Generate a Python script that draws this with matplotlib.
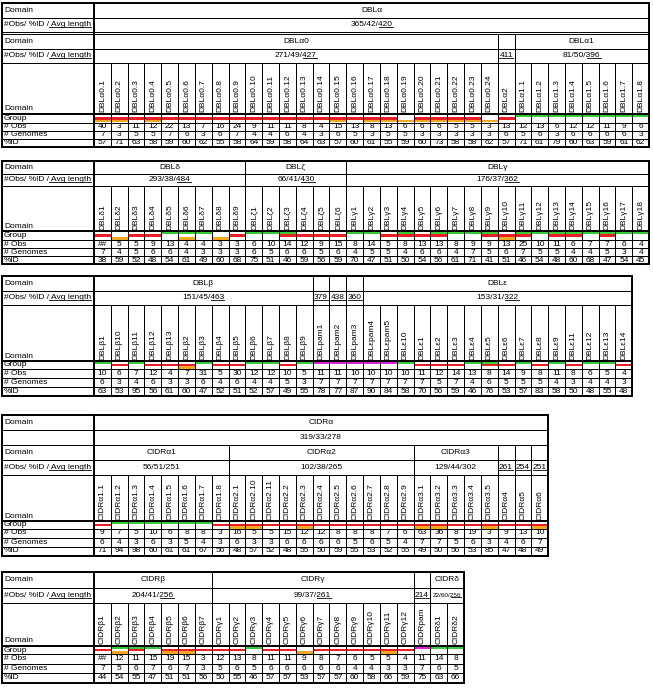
import matplotlib
matplotlib.use('Agg')
import matplotlib.pyplot as plt
from matplotlib.patches import Rectangle

plt.rcParams['font.family'] = ['Liberation Sans', 'DejaVu Sans']

FS = 6.0
LAB = '#Obs/ %ID / '
# group colours: G top band, M top band (pam), R middle band, O bottom band
band_col = {'G': '#35cc35', 'M': '#dd22dd', 'R': '#ee1c24', 'O': '#f5a623'}

# ---------------- DBLα
a_names = ['DBLα0.%d' % i for i in range(1, 25)] + ['DBLα2'] + ['DBLα1.%d' % i for i in range(1, 9)]
a_group = ['RO', 'RO', 'R', 'RO', 'R', 'R', 'R', 'R', 'R', 'R', 'R', 'R', 'R', 'R',
           'RO', 'R', 'RO', 'RO', 'O', 'RO', 'RO', 'RO', 'RO', 'O',
           'R', 'G', 'G', 'G', 'G', 'G', 'G', 'G', 'G']
a_obs = [40, 3, 11, 12, 22, 13, 7, 16, 24, 9, 11, 11, 8, 4, 15, 13, 8, 13, 6, 6, 6, 5, 5, 3,
         13, 12, 13, 6, 12, 12, 11, 9, 6]
a_gen = [7, 3, 5, 5, 7, 6, 3, 6, 7, 4, 4, 6, 4, 3, 6, 5, 3, 5, 5, 3, 3, 3, 3, 3,
         6, 5, 6, 3, 6, 6, 6, 6, 3]
a_pid = [57, 71, 63, 58, 59, 60, 62, 55, 58, 64, 59, 58, 64, 63, 57, 60, 61, 55, 59, 60, 73, 58, 58, 62,
         57, 71, 61, 79, 60, 63, 59, 61, 62]
a_head = [('Domain', [('DBLα', '', 33)]),
          (LAB, [('365/42/', '420', 33)]),
          ('Domain', [('DBLα0', '', 24), ('', '', 1), ('DBLα1', '', 8)]),
          (LAB, [('271/49/', '427', 24), ('', '411', 1), ('81/50/', '396', 8)])]

# ---------------- DBLδ / ζ / γ
b_names = ['DBLδ%d' % i for i in range(1, 10)] + ['DBLζ%d' % i for i in range(1, 7)] + \
          ['DBLγ%d' % i for i in range(1, 19)]
b_group = ['R', 'O', 'R', 'R', 'G', 'GO', 'G', 'O', 'R',
           'G', 'G', 'GR', 'R', 'R', 'R',
           'G', 'G', 'R', 'GR', 'R', 'GR', 'G', 'G', 'GR', 'RO', 'GR', 'G', 'GR', 'GR', 'G', 'GR', 'G', 'G']
b_obs = ['##', 5, 5, 9, 13, 4, 4, 3, 3, 6, 10, 14, 12, 9, 15,
         8, 14, 5, 8, 13, 13, 8, 9, 9, 13, 25, 10, 11, 6, 7, 7, 6, 4]
b_gen = [7, 4, 5, 6, 6, 4, 3, 3, 3, 6, 5, 6, 6, 5, 6,
         4, 5, 5, 4, 6, 6, 4, 7, 5, 6, 7, 5, 5, 4, 4, 5, 3, 4]
b_pid = [38, 59, 52, 48, 54, 61, 49, 60, 68, 75, 51, 46, 59, 56, 59,
         70, 47, 51, 50, 54, 56, 61, 71, 41, 51, 46, 54, 48, 60, 68, 47, 54, 45]
b_head = [('Domain', [('DBLδ', '', 9), ('DBLζ', '', 6), ('DBLγ', '', 18)]),
          (LAB, [('293/38/', '484', 9), ('66/41/', '430', 6), ('176/37/', '362', 18)])]

# ---------------- DBLβ / pam / ε
c_names = ['DBLβ1', 'DBLβ10', 'DBLβ11', 'DBLβ12', 'DBLβ13', 'DBLβ2', 'DBLβ3', 'DBLβ4', 'DBLβ5',
           'DBLβ6', 'DBLβ7', 'DBLβ8', 'DBLβ9', 'DBLpam1', 'DBLpam2', 'DBLpam3',
           'DBLεpam4', 'DBLεpam5', 'DBLε10', 'DBLε1', 'DBLε2', 'DBLε3', 'DBLε4', 'DBLε5', 'DBLε6',
           'DBLε7', 'DBLε8', 'DBLε9', 'DBLε11', 'DBLε12', 'DBLε13', 'DBLε14']
c_group = ['G', 'R', 'G', 'R', 'R', 'RO', 'G', 'R', 'R', 'G', 'G', 'R', 'G',
           'M', 'M', 'M',
           'M', 'M', 'G', 'R', 'R', 'R', 'G', 'GR', 'R', 'G', 'R', 'G', 'R', 'G', 'G', 'R']
c_obs = [10, 6, 7, 12, 4, 7, 31, 5, 30, 12, 12, 10, 5, 11, 11, 10,
         10, 10, 10, 11, 12, 14, 13, 8, 14, 9, 8, 11, 8, 6, 5, 4]
c_gen = [6, 3, 4, 6, 3, 3, 6, 4, 6, 4, 4, 5, 3, 7, 7, 7,
         7, 7, 7, 7, 5, 7, 4, 6, 5, 5, 5, 4, 3, 4, 4, 3]
c_pid = [63, 53, 95, 56, 61, 60, 47, 52, 51, 52, 57, 49, 55, 78, 77, 87,
         90, 84, 58, 70, 56, 59, 46, 76, 53, 57, 83, 58, 50, 48, 55, 48]
c_head = [('Domain', [('DBLβ', '', 13), ('', '', 1), ('', '', 1), ('', '', 1), ('DBLε', '', 16)]),
          (LAB, [('151/45/', '463', 13), ('', '379', 1), ('', '438', 1), ('', '360', 1), ('153/31/', '322', 16)])]

# ---------------- CIDRα
d_names = ['CIDRα1.%d' % i for i in range(1, 9)] + \
          ['CIDRα2.1', 'CIDRα2.10', 'CIDRα2.11'] + ['CIDRα2.%d' % i for i in range(2, 10)] + \
          ['CIDRα3.%d' % i for i in range(1, 6)] + ['CIDRα4', 'CIDRα5', 'CIDRα6']
d_group = ['R', 'G', 'G', 'G', 'G', 'G', 'G', 'R',
           'RO', 'RO', 'R', 'R', 'RO', 'R', 'R', 'R', 'R', 'R', 'R',
           'RO', 'RO', 'R', 'R', 'RO', 'R', 'R', 'RO']
d_obs = [9, 7, 5, 10, 6, 8, 8, 3, 16, 5, 5, 15, 12, 12, 8, 8, 8, 7, 6, 63, 36, 8, 19, 3, 9, 13, 10]
d_gen = [6, 4, 3, 6, 3, 5, 4, 3, 6, 3, 3, 6, 6, 6, 6, 5, 6, 5, 4, 7, 7, 5, 6, 3, 4, 6, 7]
d_pid = [71, 94, 98, 60, 61, 61, 67, 56, 48, 57, 52, 48, 55, 50, 59, 55, 53, 52, 55, 49, 50, 56, 53, 85, 47, 48, 49]
d_head = [('Domain', [('CIDRα', '', 27)]),
          ('', [('319/33/278', '', 27)]),
          ('Domain', [('CIDRα1', '', 8), ('CIDRα2', '', 11), ('CIDRα3', '', 5), ('', '', 1), ('', '', 1), ('', '', 1)]),
          (LAB, [('56/51/251', '', 8), ('102/38/265', '', 11), ('129/44/302', '', 5),
                 ('', '261', 1), ('', '254', 1), ('', '251', 1)])]

# ---------------- CIDRβ / γ / pam / δ
e_names = ['CIDRβ%d' % i for i in range(1, 8)] + ['CIDRγ%d' % i for i in range(1, 13)] + \
          ['CIDRpam', 'CIDRδ1', 'CIDRδ2']
e_group = ['R', 'GO', 'GR', 'G', 'RO', 'RO', 'R',
           'R', 'R', 'G', 'R', 'R', 'O', 'R', 'R', 'R', 'R', 'RO', 'R',
           'M', 'G', 'G']
e_obs = ['##', 12, 11, 15, 19, 15, 3, 12, 13, 8, 11, 11, 9, 8, 7, 6, 5, 5, 4, 11, 14, 8]
e_gen = [7, 5, 6, 7, 6, 7, 3, 5, 6, 5, 6, 6, 6, 6, 6, 4, 4, 3, 3, 7, 6, 5]
e_pid = [44, 54, 55, 47, 51, 51, 56, 50, 55, 46, 57, 57, 53, 57, 57, 60, 58, 66, 59, 75, 63, 66]
e_head = [('Domain', [('CIDRβ', '', 7), ('CIDRγ', '', 12), ('', '', 1), ('CIDRδ', '', 2)]),
          (LAB, [('204/41/', '256', 7), ('99/37/', '261', 12), ('', '214', 1), ('22/60/', '256', 2)])]

W, H = 653, 688
fig = plt.figure(figsize=(W / 100, H / 100), dpi=100)
ax = fig.add_axes([0, 0, 1, 1])
ax.set_xlim(0, W)
ax.set_ylim(H, 0)
ax.axis('off')
R = fig.canvas.get_renderer()

X0, XL, CW = 2, 94, 16.82
THIN, THICK = 0.7, 1.4


def box(x, y, w, h, lw=THIN):
    ax.add_patch(Rectangle((x, y), w, h, fill=False, edgecolor='black', lw=lw, zorder=3))


def twidth(s, fs):
    t = ax.text(0, 0, s, fontsize=fs)
    w = t.get_window_extent(R).width
    t.remove()
    return w


def utext(x, y, pre, und, ha='center', fs=FS, ext=0):
    t = ax.text(x, y, pre + und, ha=ha, va='center', fontsize=fs, zorder=4)
    if not und:
        return
    bb = t.get_window_extent(R)
    x1 = bb.x1
    x0 = x1 - twidth(und, fs) - ext
    inv = ax.transData.inverted()
    (dx0, dy), (dx1, _) = inv.transform([(x0, bb.y0 + 1.0), (x1, bb.y0 + 1.0)])
    ax.plot([dx0, dx1], [dy, dy], color='black', lw=0.6, zorder=4)


def block(top, heads, hh, names, nh, groups, gh, obs, gen, pid, rh, gap_after=None, small_last=False):
    n = len(names)
    right = XL + n * CW
    y = top
    for i, (lab, spans) in enumerate(heads):
        box(X0, y, XL - X0, hh)
        if lab == LAB:
            utext(X0 + 2, y + hh / 2, LAB, 'Avg length', ha='left', ext=2.5)
        elif lab:
            ax.text(X0 + 2, y + hh / 2, lab, ha='left', va='center', fontsize=FS)
        x = XL
        for k, (pre, und, span) in enumerate(spans):
            box(x, y, span * CW, hh)
            fs = FS
            if small_last and k == len(spans) - 1 and i == len(heads) - 1:
                fs = 4.6
            utext(x + span * CW / 2, y + hh / 2, pre, und, fs=fs)
            x += span * CW
        y += hh
        if gap_after is not None and i == gap_after:
            y += 2
    # names row
    box(X0, y, XL - X0, nh)
    ax.text(X0 + 2, y + nh - 1.5, 'Domain', ha='left', va='bottom', fontsize=FS)
    for j, nm in enumerate(names):
        box(XL + j * CW, y, CW, nh)
        ax.text(XL + (j + 0.5) * CW, y + nh - 1.5, nm, rotation=90, ha='center', va='bottom',
                fontsize=FS, zorder=4)
    y += nh
    # group row
    box(X0, y, XL - X0, gh)
    ax.text(X0 + 2, y + gh / 2, 'Group', ha='left', va='center', fontsize=FS)
    bh = gh / 3
    for j, g in enumerate(groups):
        x = XL + j * CW
        for c in g:
            slot = {'G': 0, 'M': 0, 'R': 1, 'O': 2}[c]
            ax.add_patch(Rectangle((x, y + slot * bh), CW, bh, color=band_col[c], lw=0, zorder=2))
        box(x, y, CW, gh)
    ax.plot([X0, right], [y, y], color='black', lw=THICK, zorder=3)
    y += gh
    # value rows
    for lab, vals in [('# Obs', obs), ('# Genomes', gen), ('%ID', pid)]:
        box(X0, y, XL - X0, rh)
        ax.text(X0 + 2, y + rh / 2, lab, ha='left', va='center', fontsize=FS)
        for j, v in enumerate(vals):
            box(XL + j * CW, y, CW, rh)
            ax.text(XL + (j + 0.5) * CW, y + rh / 2, str(v), ha='center', va='center', fontsize=FS)
        y += rh
    # outer frame and label separator
    box(X0, top, right - X0, y - top, lw=THICK)
    ax.plot([XL, XL], [top, y], color='black', lw=THICK, zorder=3)


block(3, a_head, 14.5, a_names, 51, a_group, 8.5, a_obs, a_gen, a_pid, 8, gap_after=1)
block(161, b_head, 12.5, b_names, 45, b_group, 9, b_obs, b_gen, b_pid, 8)
block(276, c_head, 14.5, c_names, 56, c_group, 8, c_obs, c_gen, c_pid, 9)
block(415, d_head, 15, d_names, 46, d_group, 7.5, d_obs, d_gen, d_pid, 9)
block(572, e_head, 15.5, e_names, 43, e_group, 8, e_obs, e_gen, e_pid, 9.5, small_last=True)

fig.savefig('out.png', dpi=100)
